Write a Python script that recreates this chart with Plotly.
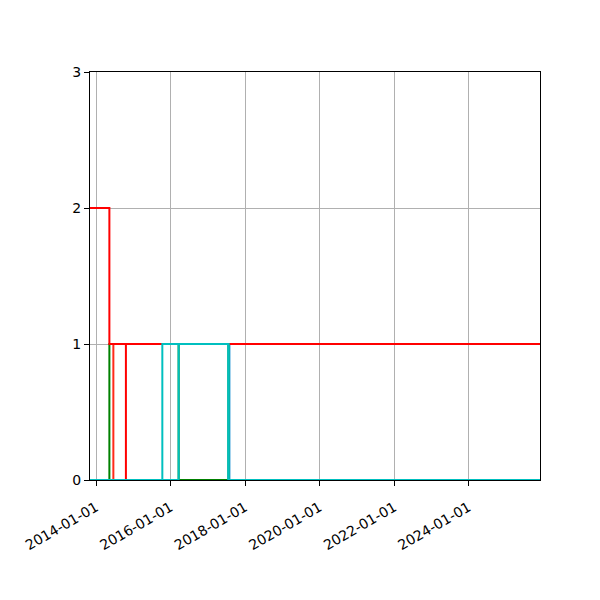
import plotly.graph_objects as go

# start / end of the record
x_start = "2013-11-03"
x_end = "2025-12-01"

# step series (post steps): dates where the value changes, and the values
blue_dates = [x_start, "2017-08-01", x_end]
blue_vals = [0, 1, 1]

green_dates = [x_start, "2014-05-12", "2016-03-21", "2017-07-22", x_end]
green_vals = [0, 1, 0, 1, 1]

red_light_dates = [x_start, "2014-06-20", x_end]
red_light_vals = [0, 1, 1]

red2_dates = [x_start, "2014-10-21", x_end]
red2_vals = [0, 1, 1]

red_dates = [x_start, "2014-05-12", x_end]
red_vals = [2, 1, 1]

cyan_a_dates = [x_start, "2016-03-21", "2017-07-22", x_end]
cyan_a_vals = [0, 1, 0, 0]

cyan_b_dates = [x_start, "2015-10-13", "2017-07-22", x_end]
cyan_b_vals = [0, 1, 0, 0]

series = [
    (blue_dates, blue_vals, "#3aa0d8"),
    (green_dates, green_vals, "#008000"),
    (red_light_dates, red_light_vals, "#ff2a1a"),
    (red2_dates, red2_vals, "#ff0000"),
    (red_dates, red_vals, "#ff0000"),
    (cyan_a_dates, cyan_a_vals, "#00bfbf"),
    (cyan_b_dates, cyan_b_vals, "#00bfbf"),
]

fig = go.Figure()
for d, v, c in series:
    fig.add_trace(go.Scatter(x=d, y=v, mode="lines", line=dict(color=c, width=2, shape="hv"),
                             showlegend=False, hoverinfo="skip"))

# page body has an 8px margin, so the margins are shifted by 8
fig.update_layout(
    width=600, height=600,
    margin=dict(l=82, r=68, t=64, b=128),
    paper_bgcolor="white", plot_bgcolor="white",
    font=dict(family="DejaVu Sans", size=14, color="black"),
)
fig.update_xaxes(
    type="date", range=[x_start, x_end], automargin=False,
    tickvals=["2014-01-01", "2016-01-01", "2018-01-01", "2020-01-01", "2022-01-01", "2024-01-01"],
    tickformat="%Y-%m-%d", tickangle=-30, ticklabelstandoff=8,
    showgrid=True, gridcolor="#b0b0b0", gridwidth=1,
    showline=True, linecolor="black", linewidth=1, mirror=True,
    ticks="outside", ticklen=5, tickcolor="black", zeroline=False,
)
fig.update_yaxes(
    range=[0, 3], tickvals=[0, 1, 2, 3], automargin=False,
    showgrid=True, gridcolor="#b0b0b0", gridwidth=1,
    showline=True, linecolor="black", linewidth=1, mirror=True,
    ticks="outside", ticklen=5, tickcolor="black", zeroline=False,
)

fig.write_html("out.html")
